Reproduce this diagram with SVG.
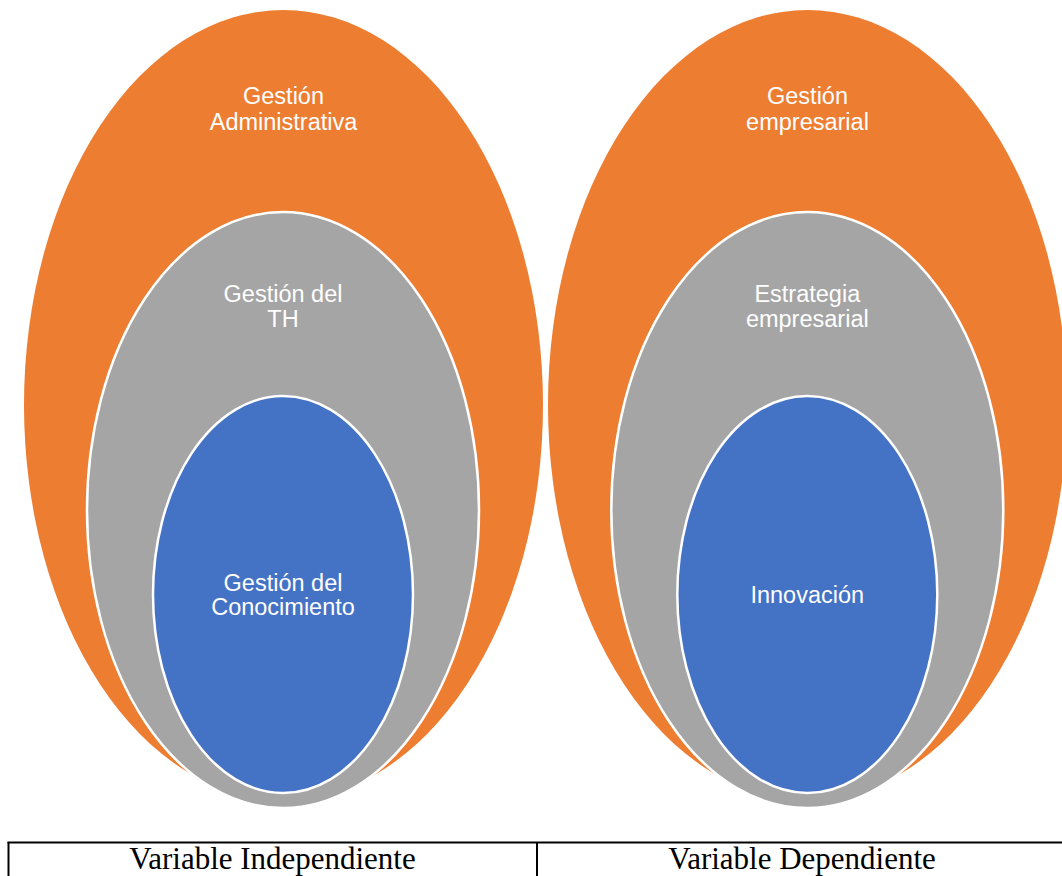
<svg xmlns="http://www.w3.org/2000/svg" width="1062" height="876" viewBox="0 0 1062 876">
  <style>
    .outer { fill: #ED7D31; }
    .middle { fill: #A5A5A5; stroke: #FFFFFF; stroke-width: 2.5; }
    .inner { fill: #4472C4; stroke: #FFFFFF; stroke-width: 2.5; }
    .label { font-family: "Liberation Sans", Arial, sans-serif; font-size: 23.5px; fill: #FFFFFF; text-anchor: middle; }
    .caption { font-family: "Liberation Serif", "Times New Roman", serif; font-size: 31px; fill: #000000; text-anchor: middle; }
    .rule { stroke: #000000; stroke-width: 2; fill: none; }
  </style>

  <!-- Independent variable: nested ellipses -->
  <g id="gestion-administrativa">
    <ellipse class="outer" cx="283.5" cy="405" rx="259.5" ry="395"/>
    <text class="label" x="283.5" y="104">Gestión</text>
    <text class="label" x="283.5" y="130">Administrativa</text>
  </g>
  <g id="gestion-th">
    <ellipse class="middle" cx="283" cy="510" rx="196" ry="298"/>
    <text class="label" x="283" y="301.5">Gestión del</text>
    <text class="label" x="283" y="327">TH</text>
  </g>
  <g id="gestion-conocimiento">
    <ellipse class="inner" cx="283" cy="594.5" rx="130" ry="198.5"/>
    <text class="label" x="283" y="590.5">Gestión del</text>
    <text class="label" x="283" y="614.5">Conocimiento</text>
  </g>

  <!-- Dependent variable: nested ellipses -->
  <g id="gestion-empresarial">
    <ellipse class="outer" cx="807.5" cy="405" rx="259.5" ry="395"/>
    <text class="label" x="807.5" y="104">Gestión</text>
    <text class="label" x="807.5" y="130">empresarial</text>
  </g>
  <g id="estrategia-empresarial">
    <ellipse class="middle" cx="807.3" cy="510" rx="196" ry="298"/>
    <text class="label" x="807.3" y="301.5">Estrategia</text>
    <text class="label" x="807.3" y="327">empresarial</text>
  </g>
  <g id="innovacion">
    <ellipse class="inner" cx="807.3" cy="594.5" rx="130" ry="198.5"/>
    <text class="label" x="807.3" y="603">Innovación</text>
  </g>

  <!-- Caption table -->
  <g id="caption-table">
    <line class="rule" x1="7.5" y1="842.5" x2="1062" y2="842.5"/>
    <line class="rule" x1="8.5" y1="842" x2="8.5" y2="876"/>
    <line class="rule" x1="537" y1="842" x2="537" y2="876"/>
    <text class="caption" transform="translate(272.5,868.5) scale(1,1.05)">Variable Independiente</text>
    <text class="caption" transform="translate(802,868.5) scale(1,1.05)">Variable Dependiente</text>
  </g>

  <!-- no connectors in this figure -->
  <g id="connectors"/>
</svg>
